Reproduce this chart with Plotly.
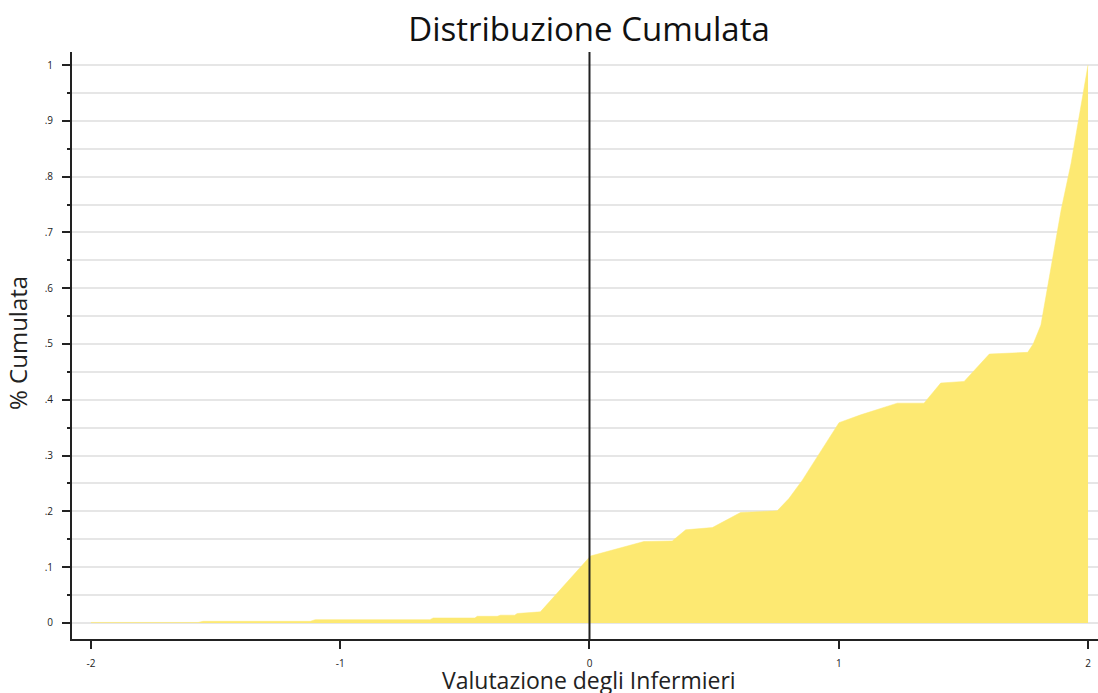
import plotly.graph_objects as go

# Data: cumulative distribution
x_vals = [-2.0, -1.57, -1.55, -1.12, -1.10, -0.64, -0.627, -0.46, -0.45, -0.37, -0.357,
          -0.30, -0.29, -0.197, 0.004, 0.084, 0.138, 0.218, 0.332, 0.386, 0.493,
          0.606, 0.753, 0.80, 0.854, 1.001, 1.088, 1.195, 1.235, 1.342, 1.409,
          1.503, 1.604, 1.758, 1.780, 1.811, 1.851, 1.892, 1.932, 1.972, 2.0]
cum_vals = [0.001, 0.001, 0.003, 0.003, 0.006, 0.006, 0.009, 0.009, 0.012, 0.012, 0.014,
            0.014, 0.017, 0.020, 0.120, 0.130, 0.137, 0.146, 0.147, 0.167, 0.171,
            0.198, 0.201, 0.223, 0.256, 0.359, 0.373, 0.389, 0.394, 0.394, 0.430,
            0.433, 0.482, 0.485, 0.50, 0.534, 0.633, 0.740, 0.824, 0.925, 1.0]

x_ticks = [-2, -1, 0, 1, 2]
x_ticktext = ["-2", "-1", "0", "1", "2"]
y_ticks = [0, 0.1, 0.2, 0.3, 0.4, 0.5, 0.6, 0.7, 0.8, 0.9, 1.0]
y_ticktext = ["0", ".1", ".2", ".3", ".4", ".5", ".6", ".7", ".8", ".9", "1"]
y_minor = [0.05, 0.15, 0.25, 0.35, 0.45, 0.55, 0.65, 0.75, 0.85, 0.95]
ref_x = 0

FONT = "Open Sans"
INK = "#222222"
GRID = "#e6e6e6"
FILL = "#fde972"

W, H = 1098, 693
ML, MR, MT, MB = 72, 0, 52, 54
PW, PH = W - ML - MR, H - MT - MB

fig = go.Figure()
fig.add_trace(go.Scatter(
    x=x_vals, y=cum_vals, mode="lines", fill="tozeroy",
    fillcolor=FILL, line=dict(color=FILL, width=0.5), hoverinfo="x+y",
    showlegend=False,
))

fig.add_shape(type="line", xref="x", yref="paper", x0=ref_x, x1=ref_x, y0=0, y1=1,
              line=dict(color=INK, width=2))

fig.add_annotation(text="Valutazione degli Infermieri", xref="paper", yref="paper",
                   x=(589 - ML) / PW, y=(H - MB - 680) / PH, xanchor="center", yanchor="middle",
                   showarrow=False, font=dict(size=23, color=INK, family=FONT))
fig.add_annotation(text="% Cumulata", xref="paper", yref="paper", textangle=-90,
                   x=(17 - ML) / PW, y=(H - MB - 343) / PH, xanchor="center", yanchor="middle",
                   showarrow=False, font=dict(size=24, color=INK, family=FONT))

fig.update_layout(
    width=W, height=H,
    margin=dict(l=ML, r=MR, t=MT, b=MB),
    paper_bgcolor="white", plot_bgcolor="white",
    font=dict(family=FONT, color=INK),
    title=dict(text="Distribuzione Cumulata", x=589 / W, xanchor="center",
               y=1 - 29 / H, yanchor="middle", yref="container",
               font=dict(size=33, family=FONT, color="#111111")),
    xaxis=dict(
        range=[-2.076, 2.040], tickmode="array", tickvals=x_ticks, ticktext=x_ticktext,
        showgrid=False, zeroline=False, showline=True, linecolor=INK, linewidth=2,
        ticks="outside", ticklen=8, tickwidth=1.5, tickcolor=INK, automargin=False,
        tickfont=dict(size=10, color=INK), ticklabelstandoff=6,
    ),
    yaxis=dict(
        range=[-0.0287, 1.0233], tickmode="array", tickvals=y_ticks, ticktext=y_ticktext,
        showgrid=True, gridcolor=GRID, gridwidth=2, zeroline=False, automargin=False,
        showline=True, linecolor=INK, linewidth=2,
        ticks="outside", ticklen=8, tickwidth=1.5, tickcolor=INK,
        tickfont=dict(size=10, color=INK), ticklabelstandoff=7,
        minor=dict(tickmode="array", tickvals=y_minor, ticks="outside", ticklen=3,
                   tickwidth=1.5, tickcolor=INK, showgrid=True, gridcolor=GRID, gridwidth=2),
    ),
)

fig.write_html("out.html", config={"displayModeBar": False},
               post_script="document.body.style.margin='0';")
